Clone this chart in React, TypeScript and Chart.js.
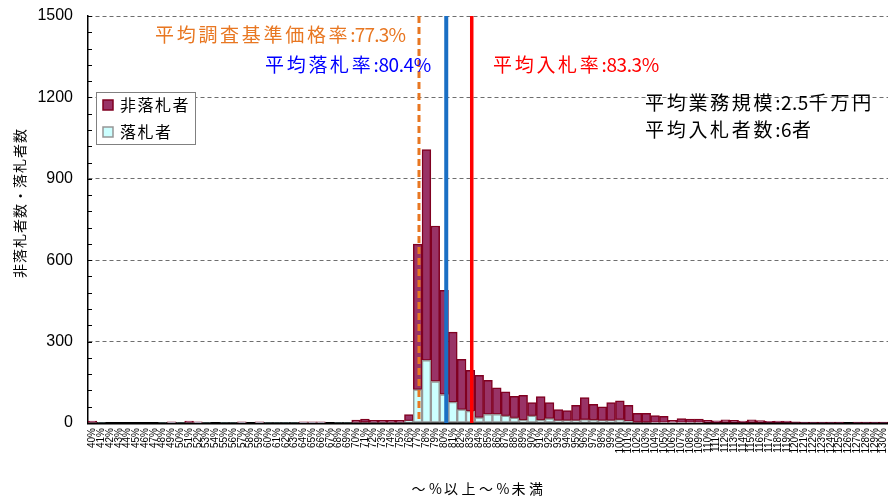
import React, { useEffect, useRef } from "react";
import { Chart, registerables } from "chart.js";

Chart.register(...registerables);

const categories = [
  "40%", "41%", "42%", "43%", "44%", "45%", "46%", "47%", "48%", "49%",
  "50%", "51%", "52%", "53%", "54%", "55%", "56%", "57%", "58%", "59%",
  "60%", "61%", "62%", "63%", "64%", "65%", "66%", "67%", "68%", "69%",
  "70%", "71%", "72%", "73%", "74%", "75%", "76%", "77%", "78%", "79%",
  "80%", "81%", "82%", "83%", "84%", "85%", "86%", "87%", "88%", "89%",
  "90%", "91%", "92%", "93%", "94%", "95%", "96%", "97%", "98%", "99%",
  "100%", "101%", "102%", "103%", "104%", "105%", "106%", "107%", "108%", "109%",
  "110%", "111%", "112%", "113%", "114%", "115%", "116%", "117%", "118%", "119%",
  "120%", "121%", "122%", "123%", "124%", "125%", "126%", "127%", "128%", "129%",
  "130%",
];

// 落札者 (winners)
const winners = [
  2, 2, 0, 0, 0, 0, 0, 0, 2, 1,
  2, 2, 1, 2, 0, 2, 2, 1, 0, 1,
  2, 2, 2, 2, 1, 1, 1, 0, 2, 2,
  2, 2, 2, 2, 2, 2, 8, 123, 231, 153,
  105, 77, 49, 44, 20, 32, 32, 26, 19, 11,
  26, 11, 16, 9, 9, 9, 12, 11, 9, 9,
  12, 6, 2, 2, 1, 1, 1, 1, 1, 1,
  0, 0, 0, 0, 0, 0, 0, 0, 0, 0,
  0, 0, 0, 0, 0, 0, 0, 0, 0, 0,
  0,
];

// 非落札者 (non-winners)
const nonWinners = [
  5, 0, 0, 0, 0, 0, 0, 0, 0, 3,
  0, 5, 3, 0, 0, 0, 0, 3, 0, 3,
  0, 0, 0, 0, 3, 3, 3, 0, 0, 0,
  9, 12, 8, 8, 8, 8, 23, 536, 777, 573,
  384, 258, 186, 150, 156, 125, 98, 89, 79, 91,
  49, 86, 59, 40, 37, 56, 82, 58, 51, 66,
  70, 59, 34, 34, 26, 24, 9, 15, 13, 13,
  10, 8, 12, 10, 7, 12, 9, 6, 7, 7,
  4, 3, 3, 3, 3, 3, 0, 3, 3, 3,
  3,
];

const yTickLabels = [0, 300, 600, 900, 1200, 1500];

const refValues = [77.3, 80.4, 83.3];
const refTexts = ["平均調査基準価格率:77.3%", "平均落札率:80.4%", "平均入札率:83.3%"];
const infoTexts = ["平均業務規模:2.5千万円", "平均入札者数:6者"];
const legendLabels = ["非落札者", "落札者"];
const yTitle = "非落札者数・落札者数";
const xTitle = "～%以上～%未満";

const FONT_JP = '"Noto Sans CJK JP", "Noto Sans", sans-serif';
const FONT_NUM = '"Liberation Sans", Arial, sans-serif';

const ORANGE = "#E87722";
const BLUE_LINE = "#1A6FC4";
const BLUE_TEXT = "#0000FF";
const RED = "#FF0000";
const MAROON = "#993366";
const MAROON_BORDER = "#800020";
const CYAN = "#CCFFFF";
const CYAN_BORDER = "#969696";

// the category of value v covers [v, v+1); this shift places a value inside its bar
const CAT_START = 40;
const REF_SHIFT = -0.15;

function isWide(ch: string) {
  return /[\u3000-\u9fff\uff00-\uffef]/.test(ch);
}

function drawSpaced(
  ctx: CanvasRenderingContext2D,
  text: string,
  x: number,
  y: number,
  cjkAdv: number,
  align: "left" | "center" = "left",
  narrowExtra = 0
) {
  const chars = Array.from(text);
  const advs = chars.map((ch) => (isWide(ch) ? cjkAdv : ctx.measureText(ch).width + narrowExtra));
  const total = advs.reduce((a, b) => a + b, 0);
  let cx = align === "center" ? x - total / 2 : x;
  ctx.textAlign = "left";
  chars.forEach((ch, i) => {
    ctx.fillText(ch, cx, y);
    cx += advs[i];
  });
}

const overlayPlugin = {
  id: "overlay",
  afterDatasetsDraw(chart: any) {
    const { ctx, chartArea: ca, scales } = chart;
    const y = scales.y;
    const x = scales.x;
    ctx.save();

    // inner minor tick marks on y axis
    ctx.strokeStyle = "#000";
    ctx.lineWidth = 1;
    y.ticks.forEach((t: any) => {
      const py = Math.round(y.getPixelForValue(t.value)) + 0.5;
      ctx.beginPath();
      ctx.moveTo(ca.left, py);
      ctx.lineTo(ca.left + 4, py);
      ctx.stroke();
    });

    // reference lines
    const styles = [
      { color: ORANGE, width: 3, dash: [7, 4] },
      { color: BLUE_LINE, width: 4, dash: [] as number[] },
      { color: RED, width: 3.5, dash: [] as number[] },
    ];
    refValues.forEach((v, i) => {
      const px = x.getPixelForValue(v - CAT_START + REF_SHIFT);
      const s = styles[i];
      ctx.strokeStyle = s.color;
      ctx.lineWidth = s.width;
      ctx.setLineDash(s.dash);
      ctx.beginPath();
      ctx.moveTo(px, ca.top);
      ctx.lineTo(px, ca.bottom);
      ctx.stroke();
    });
    ctx.setLineDash([]);

    // annotation texts
    ctx.textBaseline = "middle";
    ctx.font = `19px ${FONT_JP}`;
    ctx.fillStyle = ORANGE;
    drawSpaced(ctx, refTexts[0], 155, 35, 21.7, "left", -0.8);
    ctx.fillStyle = BLUE_TEXT;
    drawSpaced(ctx, refTexts[1], 265, 65, 21.7, "left", -0.4);
    ctx.fillStyle = RED;
    drawSpaced(ctx, refTexts[2], 493, 65, 21.7, "left", -0.4);
    ctx.fillStyle = "#000";
    drawSpaced(ctx, infoTexts[0], 645, 103, 21.7, "left", 0.5);
    drawSpaced(ctx, infoTexts[1], 645, 130, 21.7, "left", 0.5);

    // legend
    ctx.fillStyle = "#fff";
    ctx.fillRect(96, 92, 100, 53);
    ctx.strokeStyle = "#808080";
    ctx.lineWidth = 1;
    ctx.strokeRect(96.5, 92.5, 99, 52);
    ctx.fillStyle = MAROON;
    ctx.fillRect(103, 100, 10, 10);
    ctx.strokeStyle = MAROON_BORDER;
    ctx.lineWidth = 1.5;
    ctx.strokeRect(103, 100, 10, 10);
    ctx.fillStyle = CYAN;
    ctx.fillRect(103, 127, 10, 10);
    ctx.strokeStyle = CYAN_BORDER;
    ctx.strokeRect(103, 127, 10, 10);
    ctx.fillStyle = "#000";
    ctx.font = `16px ${FONT_JP}`;
    drawSpaced(ctx, legendLabels[0], 120, 105, 17.5);
    drawSpaced(ctx, legendLabels[1], 120, 132, 17.5);

    // x title
    ctx.font = `14px ${FONT_JP}`;
    drawSpaced(ctx, xTitle, 479, 489, 17.5, "center", 2);

    // y title
    ctx.save();
    ctx.translate(20, 203);
    ctx.rotate(-Math.PI / 2);
    ctx.font = `14px ${FONT_JP}`;
    drawSpaced(ctx, yTitle, 0, 0, 15, "center");
    ctx.restore();

    ctx.restore();
  },
};

export default function App() {
  const canvasRef = useRef<HTMLCanvasElement | null>(null);

  useEffect(() => {
    const canvas = canvasRef.current;
    if (!canvas) return;
    const chart = new Chart(canvas, {
      type: "bar",
      data: {
        labels: categories,
        datasets: [
          {
            label: legendLabels[1],
            data: winners,
            backgroundColor: CYAN,
            borderColor: CYAN_BORDER,
            borderWidth: 1.5,
            borderSkipped: false,
            barPercentage: 1,
            categoryPercentage: 1,
            stack: "s",
          },
          {
            label: legendLabels[0],
            data: nonWinners,
            backgroundColor: MAROON,
            borderColor: MAROON_BORDER,
            borderWidth: 1.5,
            borderSkipped: false,
            barPercentage: 1,
            categoryPercentage: 1,
            stack: "s",
          },
        ],
      },
      options: {
        responsive: false,
        animation: false,
        layout: { padding: { top: 16, left: 0, right: -1, bottom: 0 } },
        plugins: {
          legend: { display: false },
          tooltip: { enabled: false },
        },
        scales: {
          x: {
            stacked: true,
            ticks: {
              autoSkip: false,
              maxRotation: 90,
              minRotation: 90,
              font: { size: 10, family: FONT_NUM },
              color: "#000",
              padding: 5,
            },
            grid: { display: false, drawTicks: false },
            border: { color: "#000", width: 2.5 },
            afterFit: (s: any) => {
              s.height = 73;
              s.paddingLeft = 0;
              s.paddingRight = 0;
            },
          },
          y: {
            stacked: true,
            min: 0,
            max: yTickLabels[yTickLabels.length - 1],
            ticks: {
              stepSize: 60,
              autoSkip: false,
              callback: (v: any) => (yTickLabels.includes(Number(v)) ? String(v) : ""),
              font: { size: 16, family: FONT_NUM },
              color: "#000",
              padding: 15,
            },
            grid: {
              drawTicks: false,
              lineWidth: 1,
              color: (c: any) =>
                c.tick && c.tick.value !== 0 && yTickLabels.includes(c.tick.value)
                  ? "#6e6e6e"
                  : "rgba(0,0,0,0)",
            },
            border: { color: "#000", width: 1.5, dash: [4, 3] },
            afterFit: (s: any) => {
              s.width = 88;
              s.paddingTop = 0;
              s.paddingBottom = 0;
            },
          },
        },
      } as any,
      plugins: [overlayPlugin],
    });
    return () => chart.destroy();
  }, []);

  return (
    <div style={{ position: "absolute", left: 0, top: 0, width: 888, height: 496, background: "#fff" }}>
      <canvas ref={canvasRef} width={888} height={496} />
    </div>
  );
}
